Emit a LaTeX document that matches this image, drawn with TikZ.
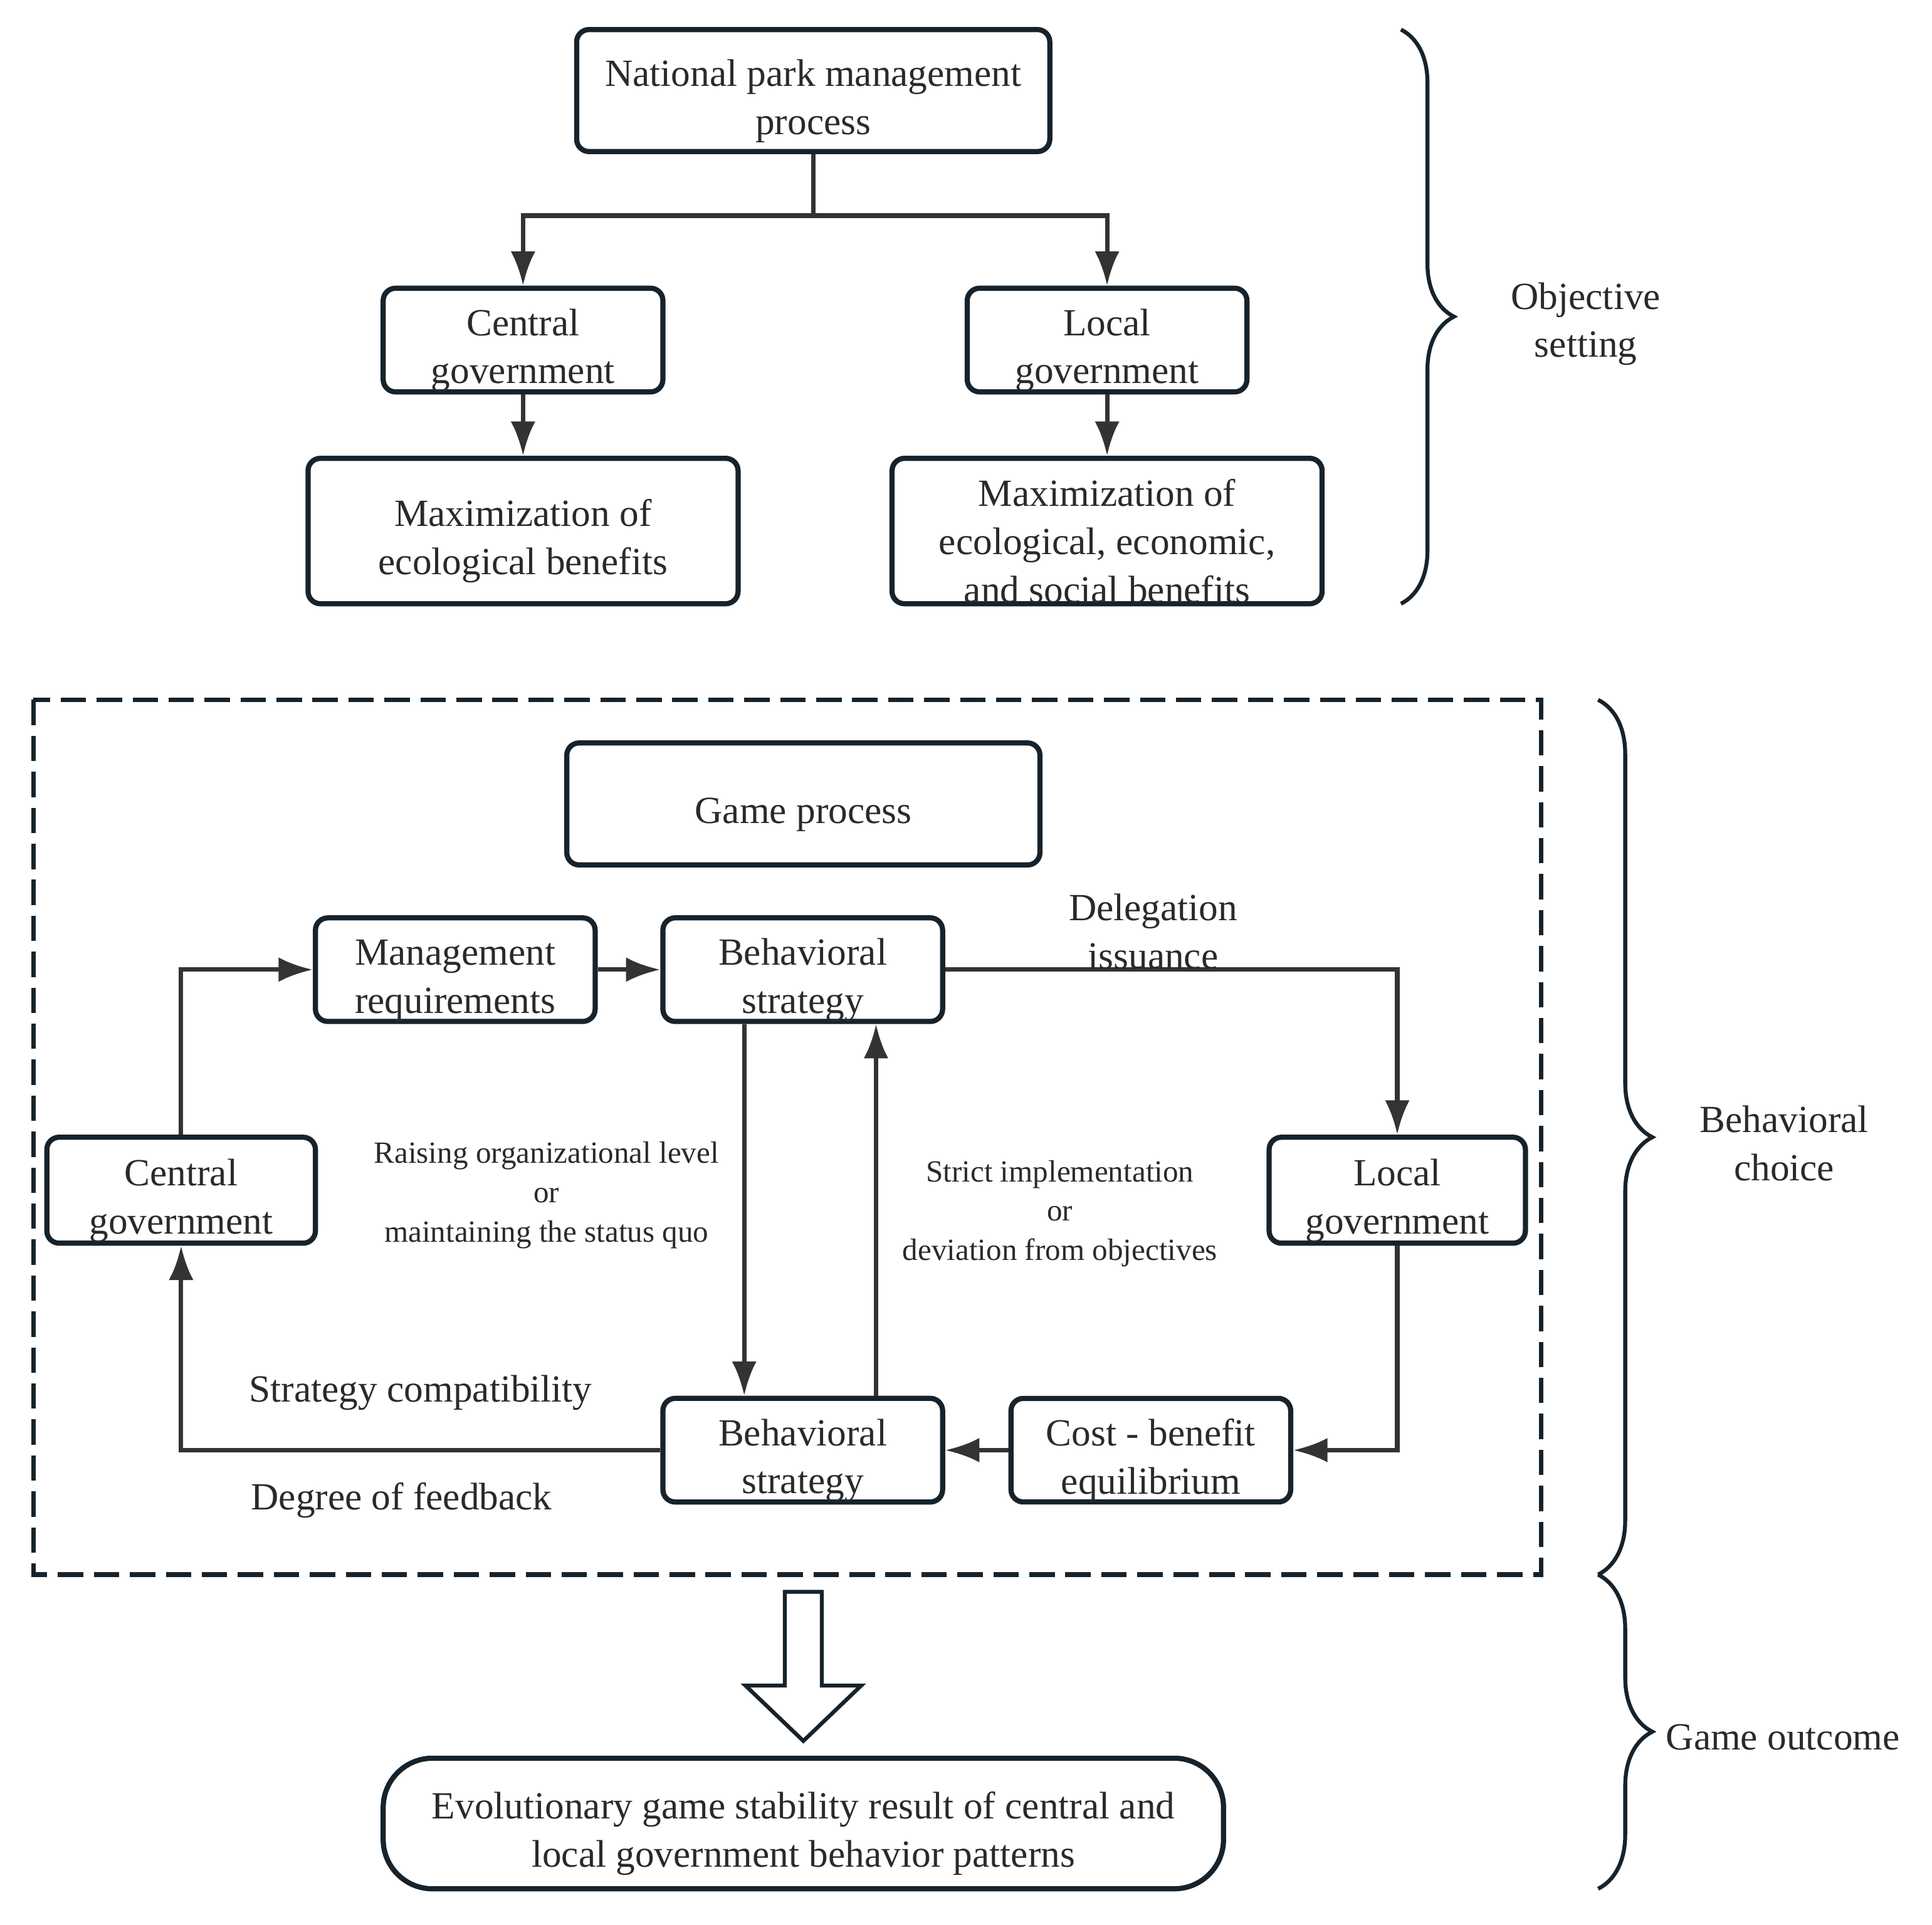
\documentclass[tikz,border=0pt]{standalone}
\usepackage{fontspec}
\setmainfont{Liberation Serif}
\usepackage{tikz}
\usepackage{xcolor}
\usetikzlibrary{shapes, arrows.meta, calc, positioning, decorations.pathreplacing}

\definecolor{boxline}{HTML}{16232C}
\definecolor{arrline}{HTML}{333333}
\definecolor{txt}{HTML}{2A2A2A}
\newcommand{\boxstrut}{\rule{0pt}{19.2pt}}

\begin{document}
\begin{tikzpicture}[x=0.5pt, y=-0.5pt,
    every node/.style={text=txt, font=\fontsize{15.6}{19.5}\selectfont},
    box/.style={draw=boxline, line width=2.1pt, rounded corners=5pt, align=center, inner sep=0pt},
    arr/.style={draw=arrline, line width=1.8pt, -{Latex[length=13.9pt, width=10pt]}},
    lbl/.style={font=\fontsize{12.5}{16}\selectfont, align=center},
    brc/.style={draw=boxline, line width=1.6pt, decorate, decoration={brace, amplitude=#1}}]

            \useasboundingbox (0,0) rectangle (1568,1562.4);

            \node[box, minimum width=192pt, minimum height=49.5pt] (P) at (660,73.5) {\boxstrut National park management\\process};
            \node[box, minimum width=113.5pt, minimum height=42pt] (CG) at (424.5,276) {\boxstrut Central\\government};
            \node[box, minimum width=113.5pt, minimum height=42pt] (LG) at (898.5,276) {\boxstrut Local\\government};
            \node[box, minimum width=174.5pt, minimum height=59pt] (MA) at (424.5,431) {\boxstrut Maximization of\\ecological benefits};
            \node[box, minimum width=174.5pt, minimum height=59pt] (MB) at (898.5,431) {\boxstrut Maximization of\\ecological, economic,\\and social benefits};

            \coordinate (S) at (660,175);
            \draw[arrline, line width=1.8pt] (P.south) -- (S);
            \draw[arr] (S) -| (CG.north);
            \draw[arr] (S) -| (LG.north);
            \draw[arr] (CG.south) -- (MA.north);
            \draw[arr] (LG.south) -- (MB.north);

            \draw[brc=21.5pt] (1137,24) -- (1137,490);
            \node[align=center] (T1) at (1287,263) {Objective\\setting};

            \draw[boxline, line width=1.8pt, dash pattern=on 10.3pt off 4.3pt] (27,568) rectangle (1251,1278);

            \node[box, minimum width=192pt, minimum height=49.5pt] (G) at (652,652.5) {\boxstrut Game process};
            \node[box, minimum width=113.5pt, minimum height=42pt] (MR) at (369.5,787) {\boxstrut Management\\requirements};
            \node[box, minimum width=113.5pt, minimum height=42pt] (B1) at (651.5,787) {\boxstrut Behavioral\\strategy};
            \node[box, minimum width=109pt, minimum height=43pt] (CG2) at (147,966) {\boxstrut Central\\government};
            \node[box, minimum width=104pt, minimum height=43pt] (LG2) at (1134,966) {\boxstrut Local\\government};
            \node[box, minimum width=113.5pt, minimum height=42pt] (B2) at (651.5,1177) {\boxstrut Behavioral\\strategy};
            \node[box, minimum width=113.5pt, minimum height=42pt] (CB) at (934,1177) {\boxstrut Cost - benefit\\equilibrium};

            \draw[arr] (CG2.north) |- (MR.west);
            \draw[arr] (MR.east) -- (B1.west);
            \draw[arr] (B1.east) -| (LG2.north) node[pos=.23, above=-4pt, align=center] {Delegation\\issuance};
            \draw[arr] ([xshift=-23.75pt]B1.south) -- ([xshift=-23.75pt]B2.north)
                node[pos=.46, left=6pt, lbl] {Raising organizational level\\or\\maintaining the status quo};
            \draw[arr] ([xshift=29.75pt]B2.north) -- ([xshift=29.75pt]B1.south)
                node[pos=.49, right=6.5pt, lbl] {Strict implementation\\or\\deviation from objectives};
            \draw[arr] (LG2.south) |- (CB.east);
            \draw[arr] (CB.west) -- (B2.east);
            \draw[arr] (B2.west) -| (CG2.south)
                node[pos=.25, above=12pt] {Strategy compatibility}
                node[pos=.27, below=9pt] {Degree of feedback};

            \draw[brc=22pt] (1297,568) -- (1297,1278);
            \node[align=center] (T2) at (1448,928) {Behavioral\\choice};

            \draw[boxline, line width=1.6pt, fill=white] (637,1292) -- (667,1292) -- (667,1368) -- (699,1368)
                -- (652,1413) -- (605,1368) -- (637,1368) -- cycle;

            \node[box, rounded corners=20pt, minimum width=341pt, minimum height=53pt] (R) at (652,1480)
                {\boxstrut Evolutionary game stability result of central and\\local government behavior patterns};

            \draw[brc=22pt] (1297,1278) -- (1297,1533);
            \node (T3) at (1447,1410) {Game outcome};

        \end{tikzpicture}
\end{document}
